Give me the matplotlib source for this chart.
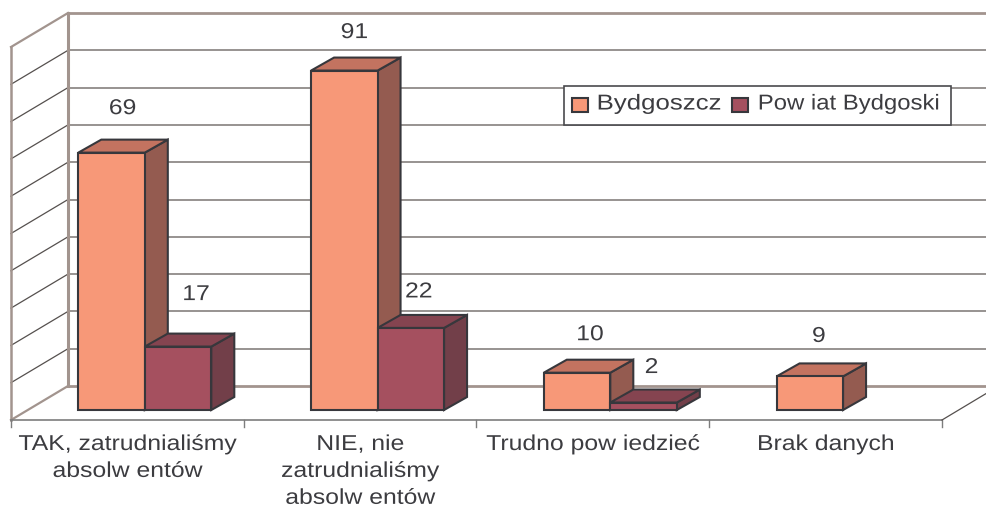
import matplotlib
matplotlib.use('Agg')
import matplotlib.pyplot as plt
from matplotlib.patches import Polygon, Rectangle
from matplotlib.patheffects import AbstractPathEffect
from matplotlib.transforms import Affine2D

categories = ['TAK, zatrudnialiśmy\nabsolw entów', 'NIE, nie\nzatrudnialiśmy\nabsolw entów',
              'Trudno pow iedzieć', 'Brak danych']
series_names = ['Bydgoszcz', 'Pow iat Bydgoski']
bydgoszcz = [69, 91, 10, 9]
powiat = [17, 22, 2, None]
grid_values = [0, 10, 20, 30, 40, 50, 60, 70, 80, 90, 100]

# px per unit
PX_X = 232.75
PX_Y = 3.73
X0 = 11      # left end of the floor front edge
Y0 = 410     # pixel row of value 0 on the bar front

BAR_OFF = 67.3 / PX_X
BAR_W = 66.5 / PX_X
BAR_DX = 23 / PX_X
BAR_DY = 13 / PX_Y
WALL_DX = 57 / PX_X
WALL_DY = 34 / PX_Y
WALL_BASE = (Y0 - 420) / PX_Y  # value level of the floor front edge

TEXT = '#3c3c40'
WALL = '#a2948e'
GRID = '#85807e'
EDGE = '#37373c'

colors1 = ('#F79878', '#C37360', '#945B50')
colors2 = ('#A5505F', '#854450', '#723F49')

plt.rcParams['font.family'] = ['Liberation Sans', 'DejaVu Sans']


# the original text is stretched sideways, each line about its own centre
class StretchX(AbstractPathEffect):
    def __init__(self, sx):
        super().__init__()
        self.sx = sx

    def draw_path(self, renderer, gc, tpath, affine, rgbFace=None):
        box = tpath.get_extents(affine)
        cx = (box.x0 + box.x1) / 2
        st = Affine2D().translate(-cx, 0).scale(self.sx, 1).translate(cx, 0)
        renderer.draw_path(gc, tpath, affine + st, rgbFace)


wide = [StretchX(1.15)]

fig = plt.figure(figsize=(9.87, 5.07), dpi=100)
ax = fig.add_axes([0, 0, 1, 1])
ax.set_xlim(-X0 / PX_X, (987 - X0) / PX_X)
ax.set_ylim((Y0 - 507) / PX_Y, Y0 / PX_Y)
ax.axis('off')

n = len(categories)
x_end = n
x_back = WALL_DX
y_back = WALL_BASE + WALL_DY

# walls and gridlines
for g in grid_values:
    y = y_back + g
    is_edge = g == 0 or g == 100
    ax.plot([x_back, (987 - X0) / PX_X], [y, y], color=WALL if is_edge else GRID,
            lw=2.0 if is_edge else 1.2, zorder=1, solid_capstyle='butt')
    ax.plot([0, x_back], [y - WALL_DY, y], color=WALL if is_edge else '#55504e',
            lw=1.6 if is_edge else 0.9, zorder=1)
ax.plot([0, 0], [WALL_BASE, WALL_BASE + 100], color=WALL, lw=1.8, zorder=1)
ax.plot([x_back, x_back], [y_back, y_back + 100], color=WALL, lw=2.2, zorder=1)

# floor front edge, ticks, right floor edge
ax.plot([0, x_end], [WALL_BASE, WALL_BASE], color='#7d7d7d', lw=1.2, zorder=2)
for i in range(n + 1):
    ax.plot([i, i], [WALL_BASE, WALL_BASE - 7 / PX_Y], color='#7d7d7d', lw=1.0, zorder=2)
ax.plot([x_end, x_end + 45 / PX_X], [WALL_BASE, WALL_BASE + 27 / PX_Y], color='#55504e', lw=0.9, zorder=2)


def draw_bar(x, v, cols, z):
    side = [(x + BAR_W, 0), (x + BAR_W + BAR_DX, BAR_DY), (x + BAR_W + BAR_DX, v + BAR_DY), (x + BAR_W, v)]
    top = [(x, v), (x + BAR_DX, v + BAR_DY), (x + BAR_W + BAR_DX, v + BAR_DY), (x + BAR_W, v)]
    front = [(x, 0), (x, v), (x + BAR_W, v), (x + BAR_W, 0)]
    for pts, c in zip((side, top, front), (cols[2], cols[1], cols[0])):
        ax.add_patch(Polygon(pts, closed=True, facecolor=c, edgecolor=EDGE, lw=1.5,
                             joinstyle='miter', zorder=z))


for i in range(n):
    draw_bar(i + BAR_OFF, bydgoszcz[i], colors1, 3 + i * 2)
    if powiat[i] is not None:
        draw_bar(i + BAR_OFF + BAR_W, powiat[i], colors2, 4 + i * 2)

# data labels, offsets from the bar front's top centre in px
off1 = [(11, 44), (10, 38), (13, 38), (9, 40)]
off2 = [(18, 52), (8, 36), (8, 35), None]
for i in range(n):
    xc = i + BAR_OFF + BAR_W / 2
    ax.text(xc + off1[i][0] / PX_X, bydgoszcz[i] + off1[i][1] / PX_Y, str(bydgoszcz[i]),
            ha='center', va='center', fontsize=15.5, color=TEXT, zorder=20, path_effects=wide)
    if powiat[i] is not None:
        ax.text(xc + BAR_W + off2[i][0] / PX_X, powiat[i] + off2[i][1] / PX_Y, str(powiat[i]),
                ha='center', va='center', fontsize=15.5, color=TEXT, zorder=20, path_effects=wide)

# category labels
for i, lab in enumerate(categories):
    ax.text(i + 0.5, WALL_BASE - 14 / PX_Y, lab, ha='center', va='top', fontsize=15.5,
            color=TEXT, linespacing=1.37, zorder=20, path_effects=wide)


# legend box, drawn by hand in picture pixels
def fx(px):
    return px / 987


def fy(py):
    return 1 - py / 507


ax.add_patch(Rectangle((fx(564), fy(125)), 387 / 987, 39 / 507, transform=ax.transAxes,
                       facecolor='white', edgecolor='#4a4a4e', lw=1.2, zorder=30))
legend_rows = [(572, 659, series_names[0], colors1[0], 1.2), (732, 848.5, series_names[1], colors2[0], 1.11)]
for sw_x, text_x, name, c, sx in legend_rows:
    ax.add_patch(Rectangle((fx(sw_x), fy(112)), 16 / 987, 14 / 507, transform=ax.transAxes,
                           facecolor=c, edgecolor=EDGE, lw=1.5, zorder=31))
    ax.text(fx(text_x), fy(104), name, transform=ax.transAxes, ha='center', va='center',
            fontsize=15.5, color=TEXT, zorder=31, path_effects=[StretchX(sx)])

fig.savefig('out.png', dpi=100)
